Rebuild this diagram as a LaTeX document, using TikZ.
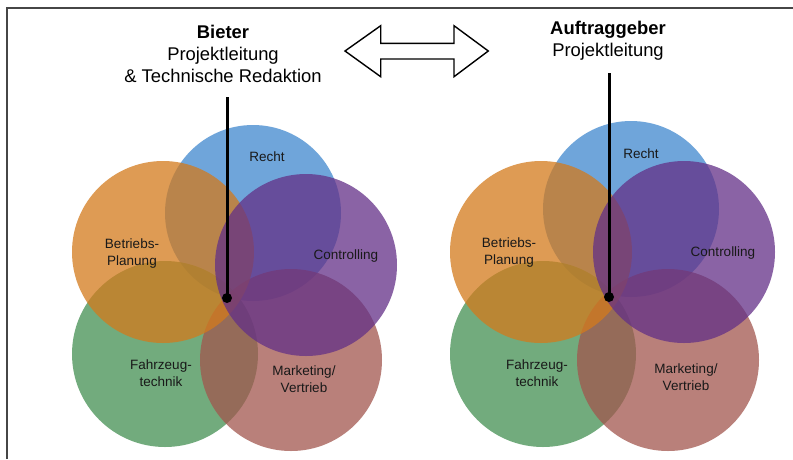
\documentclass[tikz,border=0pt]{standalone}
\usepackage{fontspec}
\setmainfont{Liberation Sans}
\definecolor{cBlue}{RGB}{63,135,206}
\definecolor{cOrange}{RGB}{211,122,28}
\definecolor{cPurple}{RGB}{99,48,135}
\definecolor{cGreen}{RGB}{68,144,82}
\definecolor{cRed}{RGB}{162,86,78}
\definecolor{cFrame}{RGB}{70,70,70}
\begin{document}
\begin{tikzpicture}[x=1pt,y=-1pt,
  venn/.style={circle, inner sep=0pt, minimum size=#1, fill opacity=0.75, draw=none},
  lbl/.style={font=\fontsize{13.5}{17}\selectfont, align=center, text=black!90},
  ttl/.style={font=\fontsize{18.4}{22}\selectfont, align=center, text=black},
  stick/.style={line width=3pt, black},
  dotm/.style={circle, fill=black, inner sep=0pt, minimum size=10pt},
  framel/.style={line width=1.2pt, cFrame},
  arr/.style={line width=1.4pt, black, fill=white, line join=miter}
]
\useasboundingbox (0,0) rectangle (793,459);
\fill[white] (0,0) rectangle (793,459);
% frame
\coordinate (fa) at (7,459);
\coordinate (fb) at (7,8);
\coordinate (fc) at (793,8);
\draw[framel] (fa) -- (fb) -- (fc);

% double arrow
\draw[arr] (345,51) -- (380.7,25.7) -- (380.7,43.3) -- (454,43.3) -- (454,25.7) -- (488.3,51)
  -- (454,76.7) -- (454,59) -- (380.7,59) -- (380.7,76.7) -- cycle;

% ---------- left diagram ----------
\node[venn=176pt, fill=cBlue]   (LR) at (253,213) {};
\node[venn=186pt, fill=cGreen]  (LF) at (165,354) {};
\node[venn=182pt, fill=cRed]    (LM) at (291,360) {};
\node[venn=182pt, fill=cOrange] (LB) at (163,252) {};
\node[venn=182pt, fill=cPurple] (LC) at (306,265) {};

\node[lbl] (LRt) at (267,157) {Recht};
\node[lbl] (LBt) at (132,254) {Betriebs-\\Planung};
\node[lbl] (LCt) at (346,256) {Controlling};
\node[lbl] (LFt) at (161,373) {Fahrzeug-\\technik};
\node[lbl] (LMt) at (304,379) {Marketing/\\Vertrieb};

\node[ttl] (LT) at (223,54) {\textbf{Bieter}\\Projektleitung\\\& Technische Redaktion};
\coordinate (Ltop) at (227,97);
\node[dotm] (Ldot) at (227,298) {};
\draw[stick] (Ltop) -- (Ldot.center);

% ---------- right diagram ----------
\node[venn=176pt, fill=cBlue]   (RR) at (631,209) {};
\node[venn=186pt, fill=cGreen]  (RF) at (543,354) {};
\node[venn=182pt, fill=cRed]    (RM) at (668,360) {};
\node[venn=182pt, fill=cOrange] (RB) at (541,252) {};
\node[venn=182pt, fill=cPurple] (RC) at (684,252) {};

\node[lbl] (RRt) at (641,154) {Recht};
\node[lbl] (RBt) at (509,253) {Betriebs-\\Planung};
\node[lbl] (RCt) at (723,253) {Controlling};
\node[lbl] (RFt) at (537,373) {Fahrzeug-\\technik};
\node[lbl] (RMt) at (686,377) {Marketing/\\Vertrieb};

\node[ttl] (RT) at (608,41) {\textbf{Auftraggeber}\\Projektleitung};
\coordinate (Rtop) at (609,73);
\node[dotm] (Rdot) at (609,297) {};
\draw[stick] (Rtop) -- (Rdot.center);
\end{tikzpicture}
\end{document}
